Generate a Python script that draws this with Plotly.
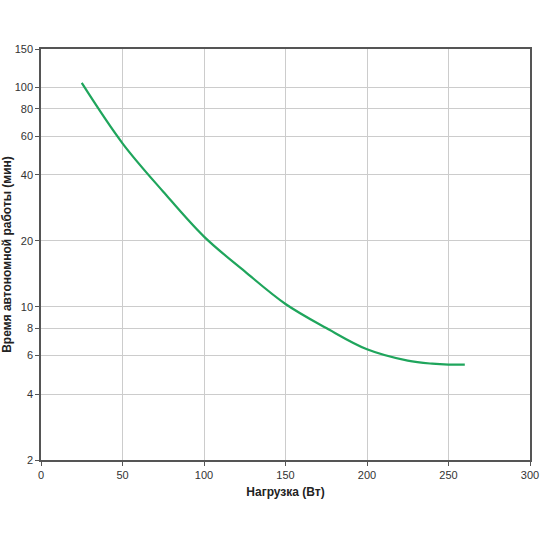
import numpy as np
import plotly.graph_objects as go

# load (W) vs runtime (min)
load_w = [25, 50, 75, 100, 125, 150, 175, 200, 225, 240, 250, 260]
runtime_min = [105, 55.7, 33.5, 20.9, 14.5, 10.3, 8.0, 6.4, 5.68, 5.5, 5.45, 5.45]

y_ticks = [2, 4, 6, 8, 10, 20, 40, 60, 80, 100, 150]
x_ticks = [0, 50, 100, 150, 200, 250, 300]

fig = go.Figure()
fig.add_trace(go.Scatter(x=load_w, y=runtime_min,
                         mode='lines',
                         line=dict(color='#1fa55c', width=2.2, shape='spline', smoothing=1.0),
                         showlegend=False))

title_font = dict(family='Arial, Liberation Sans', size=12, color='#222222')
fig.update_layout(
    width=540, height=540,
    paper_bgcolor='white', plot_bgcolor='white',
    margin=dict(l=41, r=10, t=49, b=80),
    font=dict(family='Arial, Liberation Sans', size=11, color='#333333'),
    xaxis=dict(range=[0, 300], tickvals=x_ticks, automargin=False,
               ticklabeloverflow='allow',
               showgrid=True, gridcolor='#cccccc', gridwidth=1,
               showline=True, linecolor='#555555', linewidth=1.5, mirror=True,
               ticks='outside', ticklen=4, tickcolor='#555555',
               zeroline=False,
               title=dict(text='<b>Нагрузка (Вт)</b>', standoff=8, font=title_font)),
    yaxis=dict(type='log', range=[np.log10(2), np.log10(150)], tickvals=y_ticks,
               ticktext=[str(v) for v in y_ticks], automargin=False,
               showgrid=True, gridcolor='#cccccc', gridwidth=1,
               showline=True, linecolor='#555555', linewidth=1.5, mirror=True,
               ticks='outside', ticklen=4, tickcolor='#555555',
               title=dict(text='<b>Время автономной работы (мин)</b>', standoff=0, font=title_font)),
)

# drop the default page margin so the 540px figure fills the window
fig.write_html("out.html", config={'displayModeBar': False},
               post_script="document.body.style.margin='0';")
